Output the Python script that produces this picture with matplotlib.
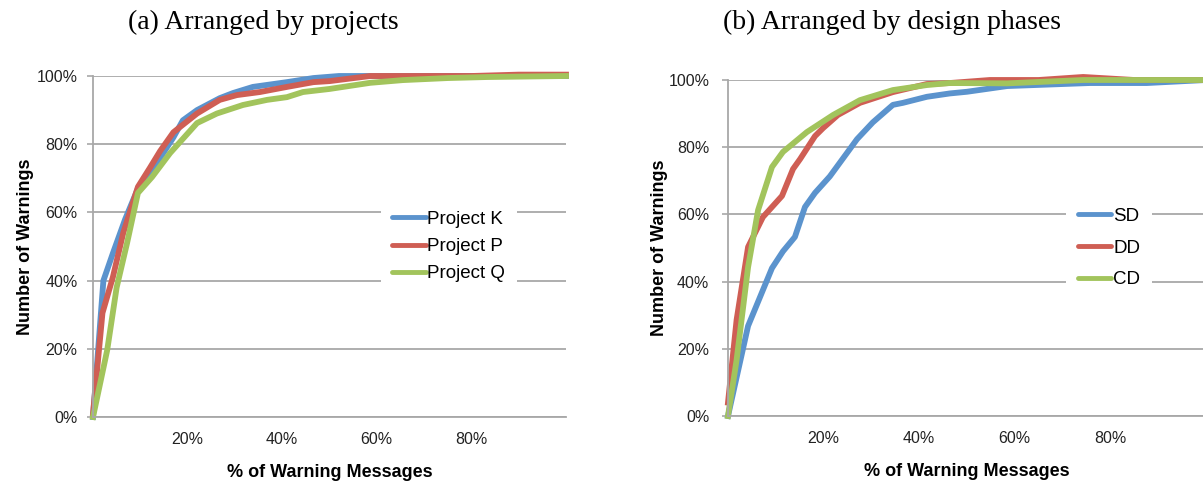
import matplotlib
matplotlib.use("Agg")
from matplotlib import pyplot as plt
from matplotlib.ticker import PercentFormatter

# cumulative share of warnings vs share of warning messages (fractions)
proj_k_x = [0, 0.022, 0.042, 0.068, 0.095, 0.12, 0.142, 0.17, 0.19, 0.22, 0.268, 0.296, 0.338, 0.41, 0.466, 0.52, 0.6, 0.7, 0.8, 0.9, 1.0]
proj_k_y = [0.0, 0.40, 0.48, 0.58, 0.67, 0.715, 0.76, 0.82, 0.87, 0.90, 0.935, 0.95, 0.968, 0.982, 0.994, 1.0, 1.0, 1.0, 1.0, 1.0, 1.0]

proj_p_x = [0, 0.02, 0.042, 0.064, 0.095, 0.12, 0.142, 0.17, 0.22, 0.268, 0.304, 0.353, 0.41, 0.466, 0.5, 0.586, 0.7, 0.8, 0.9, 1.0]
proj_p_y = [0.01, 0.305, 0.41, 0.54, 0.675, 0.73, 0.78, 0.835, 0.89, 0.93, 0.944, 0.953, 0.968, 0.982, 0.985, 1.0, 1.0, 1.0, 1.004, 1.004]

proj_q_x = [0, 0.03, 0.05, 0.072, 0.095, 0.125, 0.163, 0.22, 0.262, 0.317, 0.368, 0.41, 0.444, 0.5, 0.586, 0.655, 0.75, 0.833, 1.0]
proj_q_y = [0.0, 0.196, 0.38, 0.51, 0.657, 0.704, 0.774, 0.862, 0.89, 0.915, 0.93, 0.938, 0.953, 0.962, 0.98, 0.988, 0.994, 0.997, 1.0]

sd_x = [0, 0.042, 0.067, 0.092, 0.115, 0.14, 0.161, 0.182, 0.213, 0.249, 0.27, 0.303, 0.345, 0.366, 0.416, 0.464, 0.5, 0.584, 0.757, 0.876, 1.0]
sd_y = [0.0, 0.268, 0.354, 0.44, 0.49, 0.533, 0.622, 0.664, 0.713, 0.783, 0.824, 0.874, 0.926, 0.932, 0.95, 0.96, 0.965, 0.982, 0.991, 0.991, 1.0]

dd_x = [0, 0.018, 0.042, 0.073, 0.113, 0.136, 0.151, 0.182, 0.199, 0.23, 0.276, 0.345, 0.416, 0.464, 0.548, 0.65, 0.743, 0.85, 1.0]
dd_y = [0.04, 0.286, 0.503, 0.592, 0.655, 0.735, 0.765, 0.833, 0.857, 0.896, 0.932, 0.964, 0.988, 0.991, 1.0, 1.0, 1.009, 1.0, 1.0]

cd_x = [0, 0.018, 0.042, 0.063, 0.092, 0.115, 0.165, 0.22, 0.276, 0.345, 0.416, 0.464, 0.584, 0.743, 1.0]
cd_y = [0.0, 0.167, 0.443, 0.613, 0.741, 0.786, 0.845, 0.896, 0.94, 0.97, 0.985, 0.991, 0.99, 1.0, 1.0]

xticks = [0.2, 0.4, 0.6, 0.8]
yticks = [0, 0.2, 0.4, 0.6, 0.8, 1.0]

blue = "#5b93cd"
red = "#cf5e54"
green = "#a2c45c"
grid_gray = "#a8a8a8"

plt.rcParams["font.family"] = ["Liberation Sans", "DejaVu Sans"]

fig = plt.figure(figsize=(12.03, 4.87), dpi=100)
ax1 = fig.add_axes([93 / 1203, 70 / 487, 473 / 1203, 341 / 487])
ax2 = fig.add_axes([728 / 1203, 71 / 487, 478 / 1203, 336 / 487])


def style(ax, ypad):
    ax.set_xlim(0, 1)
    ax.set_ylim(0, 1)
    ax.set_xticks(xticks)
    ax.set_yticks(yticks)
    ax.xaxis.set_major_formatter(PercentFormatter(1.0, decimals=0))
    ax.yaxis.set_major_formatter(PercentFormatter(1.0, decimals=0))
    ax.grid(axis="y", color=grid_gray, lw=1.3)
    ax.set_axisbelow(True)
    for s in ["top", "right"]:
        ax.spines[s].set_visible(False)
    for s in ["left", "bottom"]:
        ax.spines[s].set_color(grid_gray)
        ax.spines[s].set_linewidth(1.3)
    ax.tick_params(axis="x", length=0, pad=11, labelsize=11.5, labelcolor="#222222")
    ax.tick_params(axis="y", length=4, width=1.2, color=grid_gray, pad=ypad,
                   labelsize=11.5, labelcolor="#222222")
    ax.set_xlabel("% of Warning Messages", fontsize=13, fontweight="bold", labelpad=12)
    ax.set_ylabel("Number of Warnings", fontsize=13, fontweight="bold")


style(ax1, 7)
style(ax2, 9.5)

lw = 4.2
ax1.plot(proj_k_x, proj_k_y, color=blue, lw=lw, label="Project K", clip_on=False)
ax1.plot(proj_p_x, proj_p_y, color=red, lw=lw, label="Project P", clip_on=False)
ax1.plot(proj_q_x, proj_q_y, color=green, lw=lw, label="Project Q", clip_on=False)

ax2.plot(sd_x, sd_y, color=blue, lw=lw, label="SD", clip_on=False)
ax2.plot(dd_x, dd_y, color=red, lw=lw, label="DD", clip_on=False)
ax2.plot(cd_x, cd_y, color=green, lw=lw, label="CD", clip_on=False)

ax1.yaxis.set_label_coords(-0.125, 0.5)
ax2.yaxis.set_label_coords(-0.125, 0.5)

leg_kw = dict(frameon=True, facecolor="white", edgecolor="none", framealpha=1,
              fontsize=13.5, handlelength=1.8, handletextpad=0.1, borderaxespad=0,
              fancybox=False)
leg1 = ax1.legend(loc="center left", bbox_to_anchor=(0.608, 0.5), labelspacing=0.55,
                  borderpad=0.6, **leg_kw)
leg2 = ax2.legend(loc="center left", bbox_to_anchor=(0.708, 0.5), labelspacing=0.78,
                  borderpad=0.6, **leg_kw)
for leg in (leg1, leg2):
    for h in leg.get_lines():
        h.set_linewidth(3.5)
        h.set_solid_capstyle("round")

fig.text(263 / 1203, 1 - 22 / 487, "(a) Arranged by projects", ha="center", va="center",
         fontsize=20, family="Liberation Serif")
fig.text(892 / 1203, 1 - 22 / 487, "(b) Arranged by design phases", ha="center", va="center",
         fontsize=20, family="Liberation Serif")

fig.savefig("out.png", dpi=100)
